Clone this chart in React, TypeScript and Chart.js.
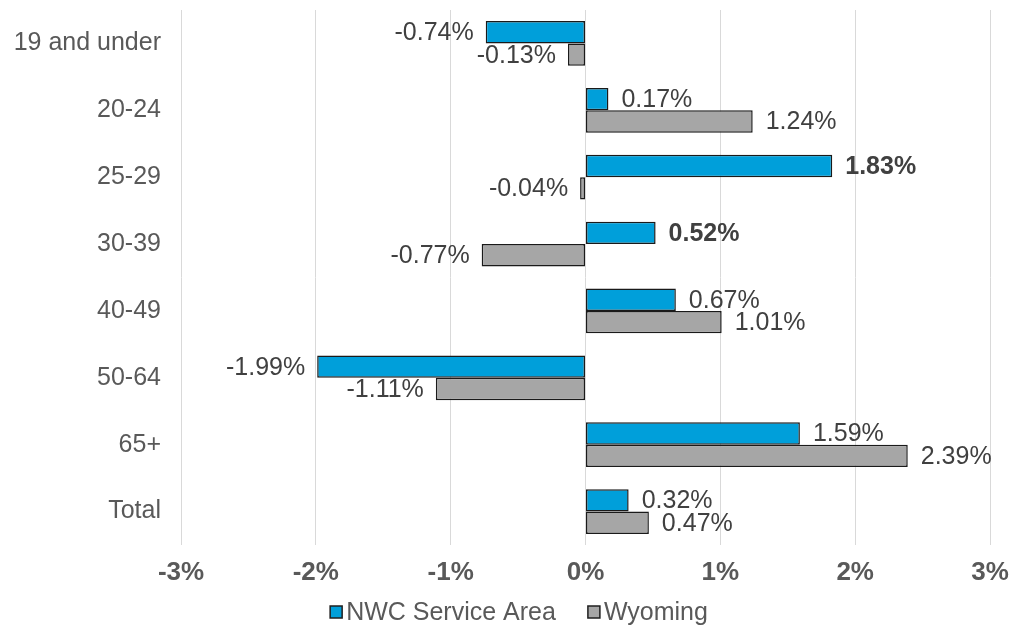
import React, { useEffect, useRef } from "react";
import { Chart, registerables } from "chart.js";

Chart.register(...registerables);

const categories = ["19 and under", "20-24", "25-29", "30-39", "40-49", "50-64", "65+", "Total"];
const nwcValues = [-0.74, 0.17, 1.83, 0.52, 0.67, -1.99, 1.59, 0.32];
const wyomingValues = [-0.13, 1.24, -0.04, -0.77, 1.01, -1.11, 2.39, 0.47];
const seriesNames = ["NWC Service Area", "Wyoming"];
const xTickValues = [-3, -2, -1, 0, 1, 2, 3];
const boldNwcCategories = ["25-29", "30-39"];

const FONT = '"Liberation Sans", Arial, Helvetica, sans-serif';
const fmt = (v: number) => v.toFixed(2) + "%";

const labelPlugin = {
  id: "barValueLabels",
  afterDatasetsDraw(chart: any) {
    const ctx = chart.ctx;
    ctx.save();
    chart.data.datasets.forEach((ds: any, di: number) => {
      const meta = chart.getDatasetMeta(di);
      meta.data.forEach((bar: any, i: number) => {
        const v = ds.data[i] as number;
        const bold = di === 0 && boldNwcCategories.includes(categories[i]);
        ctx.font = `${bold ? "bold " : ""}25px ${FONT}`;
        ctx.fillStyle = "#404040";
        ctx.textBaseline = "middle";
        const { x, y } = bar.getProps(["x", "y"], true);
        if (v >= 0) {
          ctx.textAlign = "left";
          ctx.fillText(fmt(v), x + 13, y + 1);
        } else {
          ctx.textAlign = "right";
          ctx.fillText(fmt(v), x - 12, y + 1);
        }
      });
    });
    ctx.restore();
  },
};

const legendPlugin = {
  id: "bottomLegend",
  afterDraw(chart: any) {
    const ctx = chart.ctx;
    ctx.save();
    ctx.font = `25px ${FONT}`;
    const box = 12;
    const gap = 4;
    const itemGap = 32;
    const items = chart.data.datasets.map((ds: any) => ({
      label: ds.label as string,
      color: ds.backgroundColor as string,
      w: box + gap + ctx.measureText(ds.label).width,
    }));
    const total = items.reduce((s: number, it: any) => s + it.w, 0) + itemGap * (items.length - 1);
    let x = 519 - total / 2;
    const y = 612;
    items.forEach((it: any) => {
      ctx.fillStyle = it.color;
      ctx.fillRect(x, y - box / 2, box, box);
      ctx.strokeStyle = "#1F1F1F";
      ctx.lineWidth = 1.5;
      ctx.strokeRect(x, y - box / 2, box, box);
      ctx.fillStyle = "#595959";
      ctx.textAlign = "left";
      ctx.textBaseline = "middle";
      ctx.fillText(it.label, x + box + gap, y + 1);
      x += it.w + itemGap;
    });
    ctx.restore();
  },
};

export default function App() {
  const ref = useRef<HTMLCanvasElement>(null);
  useEffect(() => {
    const chart = new Chart(ref.current as HTMLCanvasElement, {
      type: "bar",
      data: {
        labels: categories,
        datasets: [
          {
            label: seriesNames[0],
            data: nwcValues,
            backgroundColor: "#009FDA",
            borderColor: "#1A1A1A",
            borderWidth: 1.5,
            borderSkipped: false,
            categoryPercentage: 0.67,
            barPercentage: 1,
          },
          {
            label: seriesNames[1],
            data: wyomingValues,
            backgroundColor: "#A6A6A6",
            borderColor: "#1A1A1A",
            borderWidth: 1.5,
            borderSkipped: false,
            categoryPercentage: 0.67,
            barPercentage: 1,
          },
        ],
      },
      options: {
        indexAxis: "y",
        animation: false,
        responsive: false,
        layout: { padding: { top: 10, right: 19, bottom: 39, left: 0 } },
        plugins: { legend: { display: false }, tooltip: { enabled: false } },
        scales: {
          x: {
            min: -3,
            max: 3,
            afterBuildTicks: (s: any) => {
              s.ticks = xTickValues.map((v) => ({ value: v }));
            },
            afterFit: (s: any) => {
              s.height = 45;
              s.paddingLeft = 0;
              s.paddingRight = 0;
              s.paddingTop = 0;
              s.paddingBottom = 0;
            },
            grid: { color: "#D9D9D9", lineWidth: 1, drawTicks: false },
            border: { display: false },
            ticks: {
              callback: (v: any) => v + "%",
              font: { family: FONT, size: 26, weight: "bold" },
              color: "#595959",
              padding: 12,
              maxRotation: 0,
            },
          },
          y: {
            afterFit: (s: any) => {
              s.width = 181;
              s.paddingLeft = 0;
              s.paddingRight = 0;
              s.paddingTop = 0;
              s.paddingBottom = 0;
            },
            grid: { display: false, drawTicks: false },
            border: { display: false },
            ticks: {
              font: { family: FONT, size: 25 },
              color: "#595959",
              padding: 20,
            },
          },
        },
      },
      plugins: [labelPlugin, legendPlugin],
    } as any);
    return () => chart.destroy();
  }, []);
  return (
    <div style={{ position: "fixed", left: 0, top: 0, width: 1009, height: 629, background: "#fff" }}>
      <canvas ref={ref} width={1009} height={629} style={{ width: 1009, height: 629 }} />
    </div>
  );
}
